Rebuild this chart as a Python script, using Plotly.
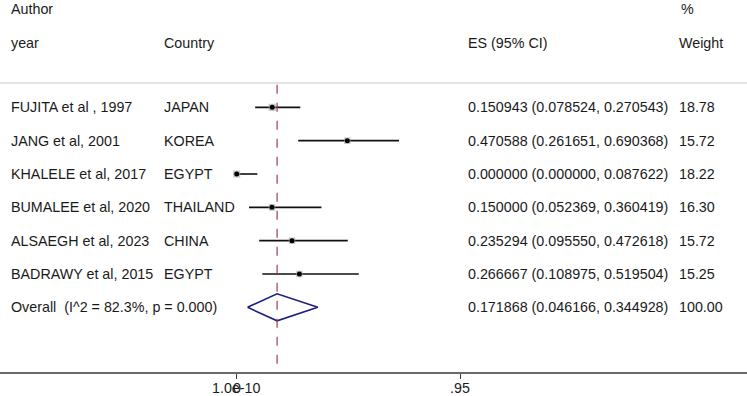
import plotly.graph_objects as go
import math

# ---------------- data ----------------
authors = ["FUJITA et al , 1997", "JANG et al, 2001", "KHALELE et al, 2017",
           "BUMALEE et al, 2020", "ALSAEGH et al, 2023", "BADRAWY et al, 2015"]
countries = ["JAPAN", "KOREA", "EGYPT", "THAILAND", "CHINA", "EGYPT"]
es = [0.150943, 0.470588, 0.000000, 0.150000, 0.235294, 0.266667]
lo = [0.078524, 0.261651, 0.000000, 0.052369, 0.095550, 0.108975]
hi = [0.270543, 0.690368, 0.087622, 0.360419, 0.472618, 0.519504]
weights = [18.78, 15.72, 18.22, 16.30, 15.72, 15.25]

overall_label = "Overall  (I^2 = 82.3%, p = 0.000)"
overall_es, overall_lo, overall_hi, overall_w = 0.171868, 0.046166, 0.344928, 100.00

tick_vals = [0, 0, 0.95]
tick_text = ["1.0e-10", "0", ".95"]

# ---------------- layout constants ----------------
W, H = 747, 396
PLOT_H = 372
FONT = "Liberation Sans, Arial, sans-serif"
FS = 14.3
TXT = "#1a1a1a"
rows = list(range(len(authors)))
ov_row = len(authors)
sep_row = -0.73
axis_row = 7.94
top_row = -3.22

px_per = (460 - 236.7) / 0.95
x_min = -236.7 / px_per
x_max = (W - 236.7) / px_per

fig = go.Figure()

# CI lines
cx, cy = [], []
for r, l, h in zip(rows, lo, hi):
    cx += [l, h, None]
    cy += [r, r, None]
fig.add_trace(go.Scatter(x=cx, y=cy, mode="lines",
                         line=dict(color="#111111", width=1.6),
                         hoverinfo="skip", showlegend=False))
# weight boxes
fig.add_trace(go.Scatter(x=es, y=rows, mode="markers",
                         marker=dict(symbol="square", color="#b0b0b0",
                                     size=[math.sqrt(w) * 1.65 for w in weights],
                                     line=dict(width=0)),
                         hoverinfo="skip", showlegend=False))
# point estimates
fig.add_trace(go.Scatter(x=es, y=rows, mode="markers",
                         marker=dict(symbol="circle", color="#000000", size=5),
                         hoverinfo="skip", showlegend=False))
# overall diamond
dh = 0.405
fig.add_trace(go.Scatter(
    x=[overall_lo, overall_es, overall_hi, overall_es, overall_lo],
    y=[ov_row, ov_row - dh, ov_row, ov_row + dh, ov_row],
    mode="lines", line=dict(color="#1c1f7e", width=1.6),
    hoverinfo="skip", showlegend=False))

shapes = [
    dict(type="line", xref="paper", yref="y", x0=0, x1=1, y0=sep_row, y1=sep_row,
         line=dict(color="#dadada", width=1.5)),
    dict(type="line", xref="x", yref="y", x0=overall_es, x1=overall_es,
         y0=sep_row + 0.05, y1=axis_row, line=dict(color="#9c3f48", width=1.2, dash="dash")),
]

ann = []
def txt(xpx, y, s, yref="y"):
    ann.append(dict(x=xpx / W, xref="paper", y=y, yref=yref, text=s, showarrow=False,
                    xanchor="left", yanchor="middle",
                    font=dict(family=FONT, size=FS, color=TXT)))

hdr1 = -2.94
hdr2 = -1.94
txt(9, hdr1, "Author")
txt(9, hdr2, "year")
txt(162, hdr2, "Country")
txt(466, hdr2, "ES (95% CI)")
txt(679, hdr1, "%")
txt(677, hdr2, "Weight")

for r, a, c, e, l, h, w in zip(rows, authors, countries, es, lo, hi, weights):
    txt(9, r, a)
    txt(162, r, c)
    txt(466, r, f"{e:.6f} ({l:.6f}, {h:.6f})")
    txt(677, r, f"{w:.2f}")
txt(9, ov_row, overall_label)
txt(466, ov_row, f"{overall_es:.6f} ({overall_lo:.6f}, {overall_hi:.6f})")
txt(677, ov_row, f"{overall_w:.2f}")

for v, t in zip(tick_vals, tick_text):
    ann.append(dict(x=v, xref="x", y=-(388 - PLOT_H) / PLOT_H, yref="paper", text=t,
                    showarrow=False, xanchor="center", yanchor="middle",
                    font=dict(family=FONT, size=FS, color=TXT)))

fig.update_layout(
    width=W, height=H,
    margin=dict(l=0, r=0, t=0, b=H - PLOT_H, pad=0),
    paper_bgcolor="white", plot_bgcolor="white",
    shapes=shapes, annotations=ann, showlegend=False,
    xaxis=dict(range=[x_min, x_max], showgrid=False, zeroline=False,
               showline=True, linecolor="#6a6a6a", linewidth=1.6,
               ticks="outside", ticklen=5, tickwidth=1.4, tickcolor="#333333",
               tickvals=sorted(set(tick_vals)), showticklabels=False,
               fixedrange=True, automargin=False),
    yaxis=dict(range=[axis_row, top_row], visible=False, showgrid=False,
               zeroline=False, fixedrange=True, automargin=False),
)

fig.write_html("out.html")
